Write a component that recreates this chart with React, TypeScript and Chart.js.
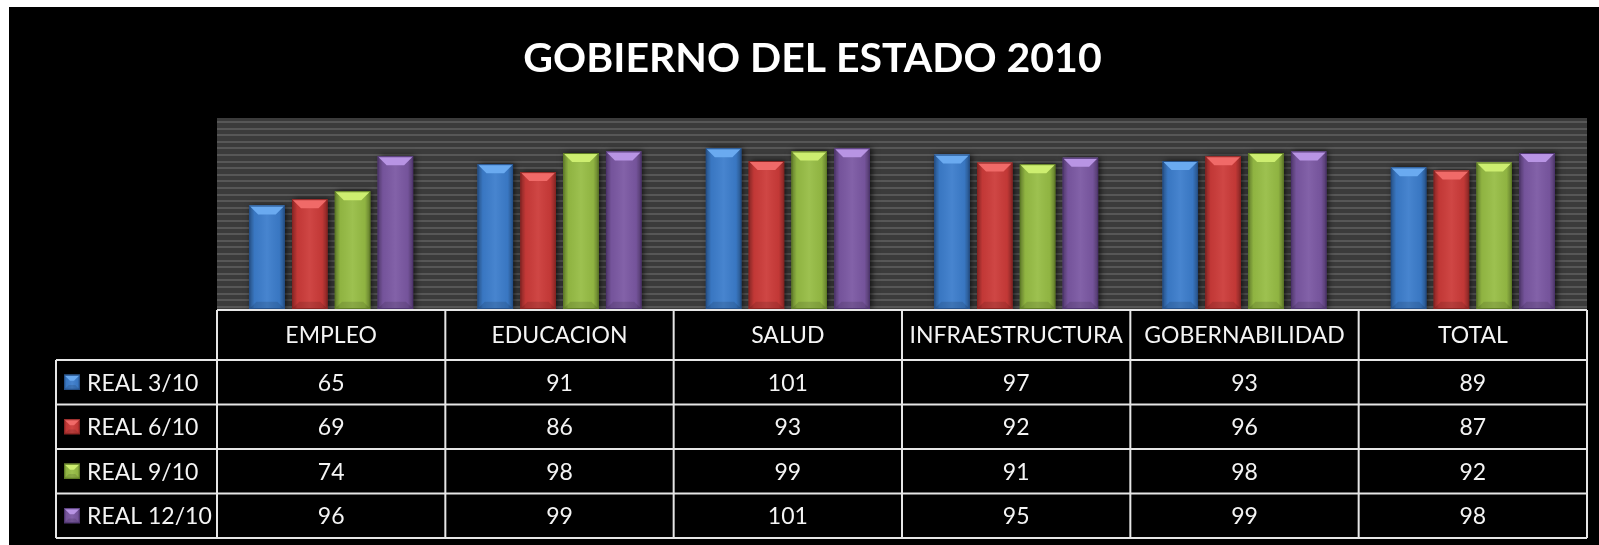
import React, { useEffect, useRef } from "react";
import { Chart, registerables } from "chart.js";

Chart.register(...registerables);

const TITLE = "GOBIERNO DEL ESTADO 2010";
const categories = ["EMPLEO", "EDUCACION", "SALUD", "INFRAESTRUCTURA", "GOBERNABILIDAD", "TOTAL"];
const seriesNames = ["REAL 3/10", "REAL 6/10", "REAL 9/10", "REAL 12/10"];
const real3 = [65, 91, 101, 97, 93, 89];
const real6 = [69, 86, 93, 92, 96, 87];
const real9 = [74, 98, 99, 91, 98, 92];
const real12 = [96, 99, 101, 95, 99, 98];
const seriesValues = [real3, real6, real9, real12];

const baseColors = ["#3c7dcc", "#cc3b39", "#97bd45", "#7b58a3"];
const lightColors = ["#6aaaf0", "#f06a68", "#cdee70", "#b894e4"];
const darkColors = ["#24508a", "#8a2422", "#5f7d25", "#4e3470"];

const FONT = "Lato, 'Open Sans', sans-serif";

function drawBevelBox(ctx: CanvasRenderingContext2D, l: number, t: number, w: number, h: number, i: number, bevel: number) {
  const r = l + w;
  const b = t + h;
  const g = ctx.createLinearGradient(l, 0, r, 0);
  g.addColorStop(0, "rgba(0,0,0,0.35)");
  g.addColorStop(0.15, "rgba(0,0,0,0.05)");
  g.addColorStop(0.5, "rgba(255,255,255,0.06)");
  g.addColorStop(0.85, "rgba(0,0,0,0.05)");
  g.addColorStop(1, "rgba(0,0,0,0.35)");
  ctx.fillStyle = g;
  ctx.fillRect(l, t, w, h);
  const bv = Math.min(bevel, h / 2, w / 2);
  ctx.fillStyle = lightColors[i];
  ctx.beginPath();
  ctx.moveTo(l, t);
  ctx.lineTo(r, t);
  ctx.lineTo(r - bv, t + bv);
  ctx.lineTo(l + bv, t + bv);
  ctx.closePath();
  ctx.fill();
  const bb = Math.min(bv * 0.8, h / 2);
  ctx.fillStyle = "rgba(0,0,0,0.12)";
  ctx.beginPath();
  ctx.moveTo(l, b);
  ctx.lineTo(r, b);
  ctx.lineTo(r - bb, b - bb);
  ctx.lineTo(l + bb, b - bb);
  ctx.closePath();
  ctx.fill();
  ctx.strokeStyle = darkColors[i];
  ctx.lineWidth = 1;
  ctx.strokeRect(l + 0.5, t + 0.5, w - 1, h - 1);
}

const backgroundPlugin = {
  id: "stripedBackground",
  beforeDatasetsDraw(chart: any) {
    const { ctx, chartArea } = chart;
    const { left, top, right, bottom } = chartArea;
    ctx.save();
    ctx.fillStyle = "#3b3b3b";
    ctx.fillRect(left, top, right - left, bottom - top);
    ctx.fillStyle = "#575757";
    for (let y = top + 3; y < bottom; y += 6.6) {
      ctx.fillRect(left, Math.round(y), right - left, 2);
    }
    ctx.restore();
    ctx.save();
    ctx.shadowColor = "rgba(0,0,0,0.7)";
    ctx.shadowBlur = 6;
    ctx.shadowOffsetX = 2;
    ctx.shadowOffsetY = 0;
  },
  afterDatasetsDraw(chart: any) {
    const { ctx } = chart;
    ctx.restore();
    ctx.save();
    chart.data.datasets.forEach((_ds: any, i: number) => {
      const meta = chart.getDatasetMeta(i);
      meta.data.forEach((el: any) => {
        const p = el.getProps(["x", "y", "width", "base"], true);
        const l = p.x - p.width / 2;
        drawBevelBox(ctx, l, p.y, p.width, p.base - p.y, i, 9);
      });
    });
    ctx.restore();
  },
};

function drawMarker(ctx: CanvasRenderingContext2D, x: number, y: number, w: number, h: number, i: number) {
  ctx.fillStyle = baseColors[i];
  ctx.fillRect(x, y, w, h);
  drawBevelBox(ctx, x, y, w, h, i, 6);
}

const tablePlugin = {
  id: "dataTable",
  afterDraw(chart: any) {
    const { ctx, chartArea } = chart;
    const { left, right, bottom } = chartArea;
    const xs = chart.scales.x;
    const n = categories.length;
    const colW = (right - left) / n;
    const top = bottom + 1;
    const headH = 50;
    const rowH = 44.5;
    const legendLeft = 47;
    const totalBottom = top + headH + rowH * seriesNames.length;

    ctx.save();
    ctx.strokeStyle = "#e6e6e6";
    ctx.lineWidth = 2;
    ctx.beginPath();
    ctx.moveTo(left, top);
    ctx.lineTo(right, top);
    for (let r = 0; r <= seriesNames.length; r++) {
      const y = top + headH + r * rowH;
      ctx.moveTo(legendLeft, y);
      ctx.lineTo(right, y);
    }
    ctx.moveTo(legendLeft, top + headH);
    ctx.lineTo(legendLeft, totalBottom);
    for (let c = 0; c <= n; c++) {
      const x = left + c * colW;
      ctx.moveTo(x, top);
      ctx.lineTo(x, totalBottom);
    }
    ctx.stroke();

    ctx.fillStyle = "#f4f4f4";
    ctx.font = `23px ${FONT}`;
    ctx.textAlign = "center";
    ctx.textBaseline = "middle";
    categories.forEach((cat, c) => {
      const cx = xs.getPixelForValue(c);
      ctx.fillText(cat, cx, top + headH / 2 + 1);
      seriesValues.forEach((vals, r) => {
        ctx.fillText(String(vals[c]), cx, top + headH + r * rowH + rowH / 2 + 1);
      });
    });
    ctx.textAlign = "left";
    seriesNames.forEach((name, r) => {
      const cy = top + headH + r * rowH + rowH / 2;
      drawMarker(ctx, legendLeft + 8, cy - 7.5, 16, 15, r);
      ctx.fillStyle = "#f4f4f4";
      ctx.fillText(name, legendLeft + 31, cy + 1);
    });
    ctx.restore();
  },
};

const titlePlugin = {
  id: "customTitle",
  afterDraw(chart: any) {
    const { ctx } = chart;
    ctx.save();
    ctx.fillStyle = "#ffffff";
    ctx.font = `bold 41px ${FONT}`;
    ctx.textAlign = "center";
    ctx.textBaseline = "middle";
    ctx.fillText(TITLE, 803.5, 52);
    ctx.restore();
  },
};

export default function App() {
  const ref = useRef<HTMLCanvasElement | null>(null);
  useEffect(() => {
    if (!ref.current) return;
    const chart = new Chart(ref.current, {
      type: "bar",
      data: {
        labels: categories,
        datasets: seriesNames.map((name, i) => ({
          label: name,
          data: seriesValues[i],
          backgroundColor: baseColors[i],
          borderWidth: 0,
          categoryPercentage: 0.75,
          barPercentage: 0.83,
        })),
      },
      options: {
        responsive: false,
        animation: false,
        layout: { padding: { left: 208, right: 12, top: 111, bottom: 236 } },
        plugins: {
          legend: { display: false },
          title: { display: false },
          tooltip: { enabled: false },
        },
        scales: {
          x: { display: false, grid: { display: false } },
          y: { display: false, min: 0, max: 120, grid: { display: false } },
        },
      },
      plugins: [backgroundPlugin, tablePlugin, titlePlugin],
    });
    return () => chart.destroy();
  }, []);
  return (
    <div style={{ position: "fixed", left: 9, top: 7, right: 0, bottom: 0, background: "#000" }}>
      <canvas ref={ref} width={1590} height={538} style={{ display: "block" }} />
    </div>
  );
}
